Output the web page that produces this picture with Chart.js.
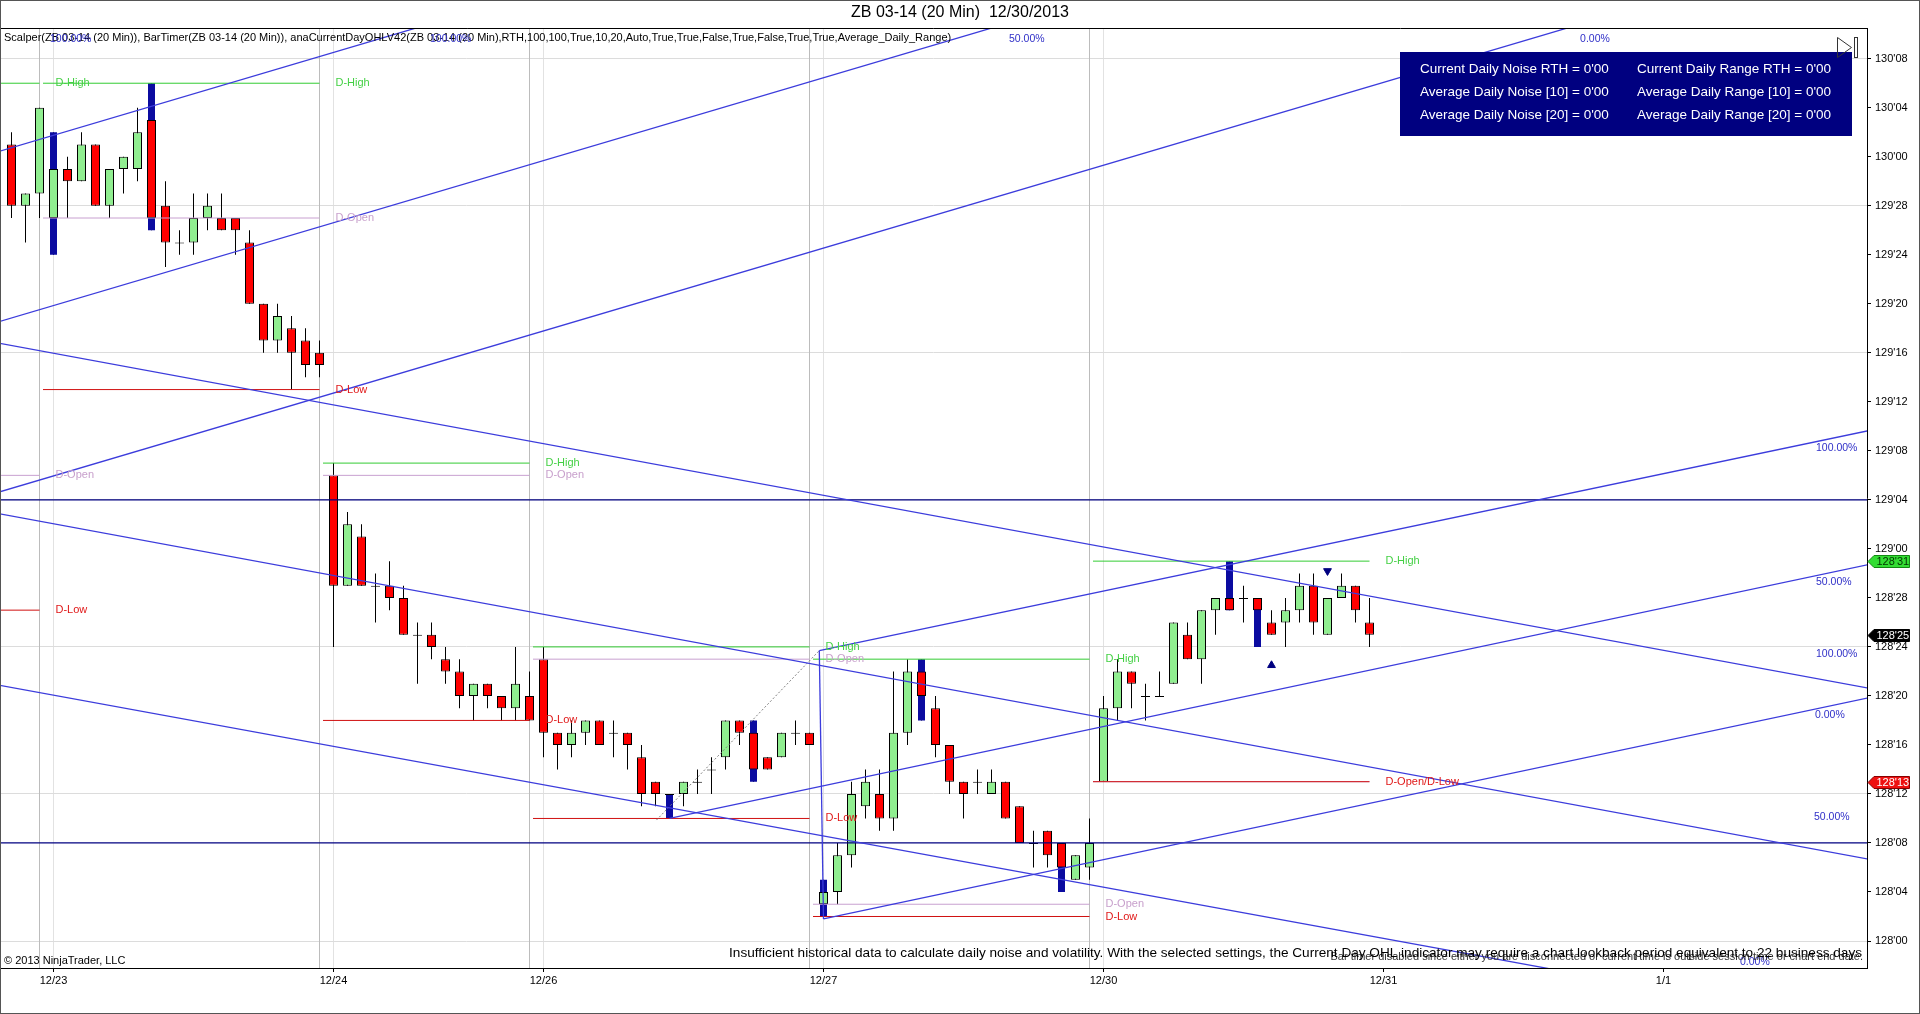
<!DOCTYPE html>
<html><head><meta charset="utf-8">
<script src="https://cdn.jsdelivr.net/npm/chart.js@4.4.1/dist/chart.umd.min.js"></script>
<style>html,body{margin:0;padding:0;background:#fff;overflow:hidden}canvas{display:block}</style>
</head><body>
<canvas id="c" width="1920" height="1014"></canvas>
<script>
// Prices are in 32nds above 128'00 (e.g. 8 = 128'08, 36 = 129'04)
const opens  = [65,60,61,59,63,62,65,60,63,63, 67,60,57,57,59,59,59,57,52,49, 50,49,48,38,29,33,29,29,28,25, 25,23,22,20,21,20,19,20,23,17, 16,17,18,17,17,15,13,12,12,13, 14,15,18,17,15,15,17,17,3,4, 7,11,12,10,17,22,19,16,13,13, 12,13,11,8,9,8,5,6,13,19, 22,20,20,21,25,23,27,28,28,28, 26,26,27,29,25,28,29,26];
const highs  = [66,61,68,66,64,66,65,63,64,68, 70,62,58,61,61,61,59,58,52,52, 51,50,49,39,35,34,30,31,29,26, 26,24,23,21,21,20,24,22,24,17, 18,18,18,18,17,16,13,12,13,14, 15,18,18,18,15,17,18,17,5,8, 13,14,14,22,23,23,20,16,13,14, 14,13,11,9,9,8,7,10,20,23, 22,21,22,26,26,27,28,31,29,28, 27,28,30,30,28,30,29,28];
const lows   = [59,57,59,56,59,62,60,59,61,62, 58,55,56,56,58,58,56,52,48,48, 45,46,46,24,29,29,26,27,25,21, 23,21,19,18,19,18,18,18,15,14, 15,16,16,15,14,11,11,10,11,12, 12,14,16,13,14,15,16,16,2,3, 6,10,9,9,16,18,15,12,10,12, 12,10,8,6,6,4,5,5,13,18, 19,18,20,21,23,21,25,27,26,24, 25,24,26,25,25,28,26,24];
const closes = [60,61,68,63,62,65,60,63,64,66, 59,57,57,59,60,58,58,52,49,51, 48,47,47,29,34,29,29,28,25,25, 24,22,20,21,20,19,21,18,17,16, 17,18,16,17,16,12,12,12,13,13, 14,18,17,14,14,17,17,16,4,7, 12,13,10,17,22,20,16,13,12,13, 13,10,8,8,7,6,7,8,19,22, 21,20,20,26,23,27,28,27,28,27, 25,27,29,26,28,29,27,25];
const blueBars = [3,10,47,53,58,65,75,87,89];
const sessionBreaks = [2,22,37,57,77];
const xTickIdx = [3,23,38,58,78,98,118];
const xTickLabels = ['12/23','12/24','12/26','12/27','12/30','12/31','1/1'];
const yTickVals = [0,4,8,12,16,20,24,28,32,36,40,44,48,52,56,60,64,68,72];
const yTickLabels = ["128'00","128'04","128'08","128'12","128'16","128'20","128'24","128'28","129'00","129'04","129'08","129'12","129'16","129'20","129'24","129'28","130'00","130'04","130'08"];

// Daily levels (12/20 partial, 12/23, 12/24, 12/26, 12/27, 12/30)
const dayStart = [-2, 2.25, 22.25, 37.25, 57.25, 77.25];
const dayEnd   = [2, 22, 37, 57, 77, 97];
const dayHigh  = [70, 70, 39, 24, 23, 31];
const dayOpen  = [38, 59, 38, 23, 3, 13];
const dayLow   = [27, 45, 18, 10, 2, 13];

// Drawn pitchfork segments [x0, v0, x1, v1]
const fork1 = [[-1,64.4,133,109.7],[-1,50.5,133,95.8],[-1,36.6,133,81.9]];
const fork2 = [[-1,48.81,133,20.56],[-1,34.9,133,6.6],[-1,20.9,133,-7.1]];
const fork3 = [[47,10.0,133,30.8],[57.7,23.7,133,41.73],[58,1.8,133,19.93],[57.7,23.7,58,1.8]];
const fork3Handle = [46.07,9.87,57.7,23.7];
const navyLevels = [36, 8];
const pctLabels = [
  ['100.00%',128.89,40.2],['50.00%',128.89,29.3],['0.00%',128.82,18.4],
  ['100.00%',128.89,23.4],['50.00%',128.75,10.1],['0.00%',123.46,-1.7],
  ['50.00%',71.25,73.6],['0.00%',112.04,73.6],['100.00%',29.89,73.6],['100.00%',2.75,73.6]
];
const upArrowIdx = [90], upArrowVal = [22.5];
const downArrowIdx = [94], downArrowVal = [30.2];
const tagVals = [31, 25, 13];
const tagLabels = ["128'31","128'25","128'13"];

const FONT = '"Liberation Sans", Arial, sans-serif';
const xMin = -11.5/14, xMax = (1867-11.5)/14;
const yMax = (941-28.2)/12.254, yMin = (941-968)/12.254;

const idx = opens.map((_, i) => i);
const bodyColors = idx.map(i => closes[i] > opens[i] ? '#90ee90' : (closes[i] < opens[i] ? '#ff0000' : '#000000'));

function seg(s, color, width, dash, order) {
  return {type:'line', data:[{x:s[0],y:s[1]},{x:s[2],y:s[3]}], borderColor:color, borderWidth:width,
    borderDash:dash||[], pointRadius:0, pointHoverRadius:0, fill:false, tension:0, order:order, clip:0};
}

const datasets = [];
datasets.push({type:'line', data: upArrowIdx.map((x,i)=>({x, y:upArrowVal[i]})), showLine:false,
  pointStyle:'triangle', pointRadius:4.5, pointBackgroundColor:'#000080', pointBorderColor:'#000080', order:0});
datasets.push({type:'line', data: downArrowIdx.map((x,i)=>({x, y:downArrowVal[i]})), showLine:false,
  pointStyle:'triangle', pointRotation:180, pointRadius:4.5, pointBackgroundColor:'#000080', pointBorderColor:'#000080', order:0});
fork1.concat(fork2, fork3).forEach(s => datasets.push(seg(s, '#3c3cdc', 1.3, null, 1)));
datasets.push(seg(fork3Handle, '#808080', 1, [2,2], 1));
navyLevels.forEach(v => datasets.push(seg([-1, v, 133, v], '#000080', 1.3, null, 1)));
dayEnd.forEach((e, i) => {
  datasets.push(seg([dayStart[i], dayLow[i], e, dayLow[i]], '#d01010', 1, null, 1));
  datasets.push(seg([dayStart[i], dayHigh[i], e, dayHigh[i]], '#33cc33', 1, null, 1));
  datasets.push(seg([dayStart[i], dayOpen[i], e, dayOpen[i]], '#c8a0d0', 1, null, 1));
});
datasets.push({type:'bar', data: idx.map(i => ({x:i, y:[opens[i], closes[i]]})), backgroundColor: bodyColors,
  borderColor:'#000', borderWidth:1, borderSkipped:false, barThickness:9, minBarLength:1, grouped:false, inflateAmount:0, order:2});
datasets.push({type:'bar', data: blueBars.map(i => ({x:i, y:[lows[i], highs[i]]})), backgroundColor:'#0b0ba0',
  borderWidth:0, barThickness:7, grouped:false, inflateAmount:0, order:3});
datasets.push({type:'bar', data: idx.map(i => ({x:i, y:[lows[i], highs[i]]})), backgroundColor:'#000',
  borderWidth:0, barThickness:1, grouped:false, inflateAmount:0, order:4});
sessionBreaks.forEach(b => datasets.push(seg([b, -10, b, 90], '#bcbcbc', 1, null, 5)));

const overlay = {
  id:'overlay',
  afterDraw(chart) {
    const {ctx, chartArea:a, scales:{x, y}} = chart;
    const px = v => x.getPixelForValue(v), py = v => y.getPixelForValue(v);
    ctx.save();
    // frame
    ctx.strokeStyle = '#000'; ctx.lineWidth = 1;
    const top = Math.round(a.top) + 0.5;
    ctx.beginPath(); ctx.moveTo(0.5, a.bottom); ctx.lineTo(0.5, top); ctx.lineTo(a.right, top); ctx.stroke();
    ctx.strokeStyle = '#555'; ctx.strokeRect(0.5, 0.5, 1919, 1013);

    ctx.textBaseline = 'middle'; ctx.textAlign = 'left';
    // level labels
    ctx.font = '11px ' + FONT;
    dayEnd.forEach((e, i) => {
      const lx = px(e) + 16;
      ctx.fillStyle = '#44d044'; ctx.fillText('D-High', lx, py(dayHigh[i]));
      if (dayOpen[i] === dayLow[i]) {
        ctx.fillStyle = '#e01818'; ctx.fillText('D-Open/D-Low', lx, py(dayLow[i]));
      } else {
        ctx.fillStyle = '#c8a0cc'; ctx.fillText('D-Open', lx, py(dayOpen[i]));
        ctx.fillStyle = '#e01818'; ctx.fillText('D-Low', lx, py(dayLow[i]));
      }
    });
    // legend line
    ctx.fillStyle = '#000'; ctx.font = '11px ' + FONT;
    ctx.fillText('Scalper(ZB 03-14 (20 Min)), BarTimer(ZB 03-14 (20 Min)), anaCurrentDayOHLV42(ZB 03-14 (20 Min),RTH,100,100,True,10,20,Auto,True,True,False,True,False,True,True,Average_Daily_Range)', 4, 38);
    // pitchfork percentage labels
    ctx.font = '10.5px ' + FONT; ctx.fillStyle = '#3030c8';
    pctLabels.forEach(l => ctx.fillText(l[0], px(l[1]), py(l[2])));

    // info box
    ctx.fillStyle = '#000080'; ctx.fillRect(1400, 52, 452, 84);
    ctx.fillStyle = '#fff'; ctx.font = '13.5px ' + FONT;
    const rows = [["Current Daily Noise RTH = 0'00","Current Daily Range RTH = 0'00"],
                  ["Average Daily Noise [10] = 0'00","Average Daily Range [10] = 0'00"],
                  ["Average Daily Noise [20] = 0'00","Average Daily Range [20] = 0'00"]];
    [69, 92, 115.5].forEach((ry, r) => { ctx.fillText(rows[r][0], 1420, ry); ctx.fillText(rows[r][1], 1637, ry); });

    // end-of-chart icon
    ctx.strokeStyle = '#333'; ctx.lineWidth = 1;
    ctx.beginPath(); ctx.moveTo(1837.5, 37.5); ctx.lineTo(1851.5, 47.5); ctx.lineTo(1837.5, 57.5); ctx.closePath(); ctx.stroke();
    ctx.strokeRect(1854.5, 37.5, 3, 20);

    // bottom texts
    ctx.fillStyle = '#000'; ctx.font = '11px ' + FONT; ctx.textAlign = 'left';
    ctx.fillText('\u00A9 2013 NinjaTrader, LLC', 4, 961);
    ctx.textAlign = 'right';
    ctx.fillStyle = '#333'; ctx.font = '11px ' + FONT;
    ctx.fillText('Bar timer disabled since either you are disconnected or current time is outside session time or chart end date.', 1863, 957);
    ctx.fillStyle = '#000'; ctx.font = '13.6px ' + FONT;
    ctx.fillText('Insufficient historical data to calculate daily noise and volatility. With the selected settings, the Current Day OHL indicator may require a chart lookback period equivalent to 22 business days', 1862, 953);

    // price tags on the axis
    const tagBg = ['#33dd33', '#000000', '#ee1111'], tagFg = ['#003300', '#ffffff', '#ffffff'], tagLine = ['#118811','#000000','#880000'];
    ctx.textAlign = 'left'; ctx.font = '11px ' + FONT;
    tagVals.forEach((v, i) => {
      const ty = Math.round(py(v)) + 0.5;
      ctx.beginPath(); ctx.moveTo(1868, ty); ctx.lineTo(1874, ty - 6); ctx.lineTo(1909.5, ty - 6); ctx.lineTo(1909.5, ty + 6); ctx.lineTo(1874, ty + 6); ctx.closePath();
      ctx.fillStyle = tagBg[i]; ctx.fill(); ctx.strokeStyle = tagLine[i]; ctx.stroke();
      ctx.fillStyle = tagFg[i]; ctx.fillText(tagLabels[i], 1876.5, ty + 0.5);
    });
    ctx.restore();
  }
};

new Chart(document.getElementById('c'), {
  type:'bar',
  data:{datasets},
  options:{
    responsive:false, animation:false, devicePixelRatio:1,
    layout:{padding:0, autoPadding:false},
    plugins:{
      legend:{display:false}, tooltip:{enabled:false},
      title:{display:true, text:'ZB 03-14 (20 Min)  12/30/2013', color:'#000',
        font:{family:FONT, size:16, weight:'normal'}, padding:{top:3, bottom:6}}
    },
    scales:{
      x:{type:'linear', min:xMin, max:xMax, offset:false, position:'bottom',
        afterBuildTicks: s => { s.ticks = xTickIdx.map(v => ({value:v})); },
        afterFit: s => { s.height = 46; },
        ticks:{autoSkip:false, maxRotation:0, color:'#000', padding:2, font:{family:FONT, size:11},
          callback:(v, i) => xTickLabels[i]},
        grid:{offset:false, color: c => (c.tick && c.tick.value <= 78) ? '#e2e2e2' : 'rgba(0,0,0,0)',
          tickColor:'#000', tickLength:4, drawTicks:true},
        border:{display:true, color:'#000', width:1}
      },
      y:{type:'linear', position:'right', min:yMin, max:yMax,
        afterBuildTicks: s => { s.ticks = yTickVals.map(v => ({value:v})); },
        afterFit: s => { s.width = 53; },
        ticks:{autoSkip:false, color:'#000', padding:4, font:{family:FONT, size:11},
          callback:(v, i) => yTickLabels[i]},
        grid:{color: c => (c.tick && c.tick.value % 12 === 0) ? '#dcdcdc' : 'rgba(0,0,0,0)',
          tickColor:'#000', tickLength:4},
        border:{display:true, color:'#000', width:1}
      }
    }
  },
  plugins:[overlay]
});
</script>
</body></html>
